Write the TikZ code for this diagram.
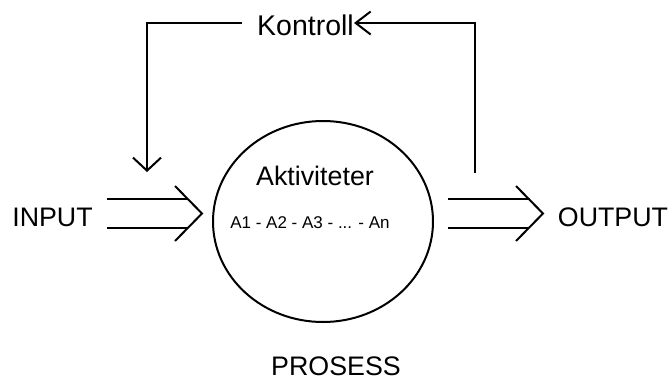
\documentclass[tikz,border=0pt]{standalone}
\usepackage{fontspec}
\setmainfont{Liberation Sans}
\usetikzlibrary{arrows.meta,shapes.geometric}
\begin{document}
\begin{tikzpicture}[x=1pt,y=-1pt,
  ln/.style={line width=2pt, line cap=butt, line join=miter},
  big/.style={inner sep=0pt, font=\fontsize{26.8}{30}\selectfont},
  small/.style={inner sep=0pt, font=\fontsize{17}{20}\selectfont},
  downtip/.style={-{Straight Barb[length=13pt,width=28pt,line width=2pt]}},
  lefttip/.style={-{Straight Barb[length=15pt,width=23pt,line width=2pt]}}]
\useasboundingbox (0,0) rectangle (670,381);
% process circle
\node[draw, line width=2pt, ellipse, minimum width=220pt, minimum height=201pt, inner sep=0pt] (proc) at (323,221.5) {};
\node[big, anchor=base] (akt) at (315,185) {Aktiviteter};
\node[small, anchor=base] (acts) at (310,228) {A1 - A2 - A3 - ... - An};
\node[big, anchor=base] (prosess) at (336,375) {PROSESS};
\node[big, anchor=base] (input) at (52.5,226) {INPUT};
\node[big, anchor=base] (output) at (613,226) {OUTPUT};
\node[inner sep=0pt, font=\fontsize{28.5}{32}\selectfont, anchor=base] (kontroll) at (305.5,35) {Kontroll};
% input double arrow
\coordinate (ia1) at (107,199);
\coordinate (ia2) at (107,228);
\coordinate (itip) at (202,213.5);
\draw[ln] (ia1) -- (188,199);
\draw[ln] (ia2) -- (187,228);
\draw[ln] (175,186) -- (itip) -- (175,241);
% output double arrow
\coordinate (oa1) at (448,199);
\coordinate (oa2) at (448,228);
\coordinate (otip) at (543,213.5);
\draw[ln] (oa1) -- (530,199);
\draw[ln] (oa2) -- (529,228);
\draw[ln] (516,186) -- (otip) -- (516,241);
% feedback loop
\coordinate (fbstart) at (475,173);
\coordinate (fbcorner) at (475,23);
\coordinate (fbtl) at (147,23);
\coordinate (fbend) at (147,172);
\draw[ln, lefttip] (fbstart) -- (fbcorner) -- (kontroll.east |- fbcorner);
\draw[ln, downtip] (242,23) -- (fbtl) -- (fbend);
\end{tikzpicture}
\end{document}
